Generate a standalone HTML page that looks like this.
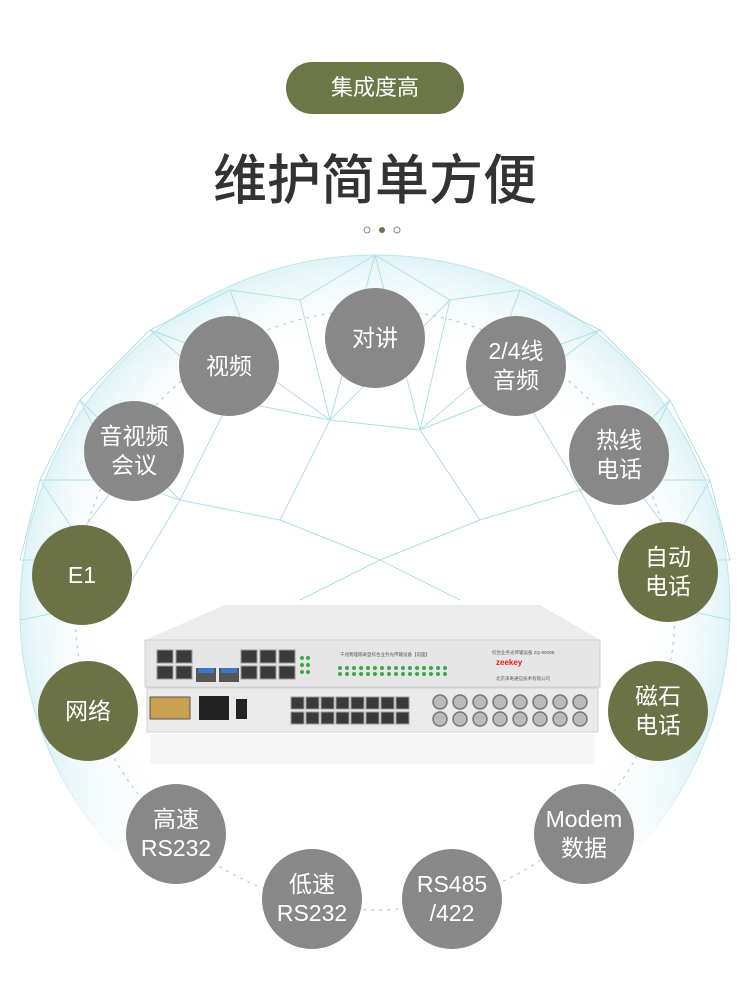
<!DOCTYPE html>
<html><head><meta charset="utf-8"><style>
body{margin:0;width:750px;height:1003px;background:#fff;position:relative;overflow:hidden;font-family:"Liberation Sans","Noto Sans CJK SC",sans-serif}
.pill{position:absolute;left:286px;top:62px;width:178px;height:52px;border-radius:26px;background:#6c7748;color:#fff;font-size:22px;text-align:center;line-height:52px}
.title{position:absolute;left:0;width:750px;top:136px;text-align:center;font-size:54px;color:#333;letter-spacing:0px;font-weight:500}
.c{position:absolute;width:100px;height:100px;border-radius:50%;background:#888;color:#fff;font-size:23px;display:flex;align-items:center;justify-content:center;text-align:center;line-height:29px}
.g{background:#6b7346}
</style></head><body>
<svg width="750" height="1003" style="position:absolute;left:0;top:0">
<defs>
<radialGradient id="rg" cx="50%" cy="50%" r="50%"><stop offset="75%" stop-color="#fff" stop-opacity="0"/><stop offset="100%" stop-color="#dff3f6"/></radialGradient>
<linearGradient id="fade" x1="0" y1="0" x2="0" y2="1"><stop offset="0" stop-color="#fff"/><stop offset="0.7" stop-color="#fff"/><stop offset="0.85" stop-color="#000"/></linearGradient>
<mask id="m"><rect x="0" y="250" width="750" height="720" fill="url(#fade)"/></mask>
</defs>
<g mask="url(#m)">
<circle cx="375" cy="610" r="355" fill="url(#rg)" stroke="#bfe6ec" stroke-width="1"/>
<g stroke="#b0dfe8" stroke-width="1" fill="none">
<path d="M375 255 L300 300 L230 290 L150 330 L80 400 L40 480 L20 560 M375 255 L450 300 L520 290 L600 330 L670 400 L710 480 L730 560"/>
<path d="M300 300 L330 420 L230 400 L150 330 M330 420 L450 300 L420 430 L520 390 L600 330 M420 430 L330 420 L280 520 L180 500 L80 400 M420 430 L480 520 L580 490 L670 400 M280 520 L380 560 L480 520 M180 500 L120 600 L40 480 M580 490 L640 600 L710 480 M380 560 L300 600 M380 560 L460 600 M230 400 L180 500 M520 390 L580 490"/>
<path d="M230 290 L260 370 L330 420 M520 290 L490 370 L420 430 M60 560 L120 600 L20 620 M690 560 L640 600 L730 620 M375 255 L330 420 M375 255 L420 430 M150 330 L260 370 M600 330 L490 370 M80 400 L120 480 L40 480 M670 400 L630 480 L710 480 M120 480 L180 500 M630 480 L580 490 M20 560 L60 560 L120 480 M730 560 L690 560 L630 480"/>
</g>
</g>
<circle cx="375" cy="610" r="300" fill="none" stroke="#c8c8c8" stroke-width="1.2" stroke-dasharray="3 5"/>
<circle cx="367" cy="230" r="3" fill="none" stroke="#888"/>
<circle cx="382" cy="230" r="3" fill="#6b7346"/>
<circle cx="397" cy="230" r="3" fill="none" stroke="#888"/>
<polygon points="225,605 540,605 600,640 145,640" fill="#ececec"/>
<rect x="145" y="640" width="455" height="47" fill="#e6e6e6" stroke="#d0d0d0"/>
<rect x="147" y="688" width="451" height="44" fill="#eaeaea" stroke="#d0d0d0"/>
<g fill="#3a3a3a" stroke="#999">
<rect x="157" y="650" width="16" height="13"/><rect x="176" y="650" width="16" height="13"/>
<rect x="157" y="666" width="16" height="13"/><rect x="176" y="666" width="16" height="13"/>
<rect x="241" y="650" width="16" height="13"/><rect x="260" y="650" width="16" height="13"/><rect x="279" y="650" width="16" height="13"/>
<rect x="241" y="666" width="16" height="13"/><rect x="260" y="666" width="16" height="13"/><rect x="279" y="666" width="16" height="13"/>
</g>
<rect x="196" y="668" width="20" height="14" fill="#555"/><rect x="198" y="668" width="16" height="5" fill="#3b78c8"/>
<rect x="219" y="668" width="20" height="14" fill="#555"/><rect x="221" y="668" width="16" height="5" fill="#3b78c8"/>
<g fill="#3aa84a">
<circle cx="340" cy="668" r="2"/><circle cx="347" cy="668" r="2"/><circle cx="354" cy="668" r="2"/><circle cx="361" cy="668" r="2"/><circle cx="368" cy="668" r="2"/><circle cx="375" cy="668" r="2"/><circle cx="382" cy="668" r="2"/><circle cx="389" cy="668" r="2"/><circle cx="396" cy="668" r="2"/><circle cx="403" cy="668" r="2"/><circle cx="410" cy="668" r="2"/><circle cx="417" cy="668" r="2"/><circle cx="424" cy="668" r="2"/><circle cx="431" cy="668" r="2"/><circle cx="438" cy="668" r="2"/><circle cx="445" cy="668" r="2"/>
<circle cx="340" cy="674" r="2"/><circle cx="347" cy="674" r="2"/><circle cx="354" cy="674" r="2"/><circle cx="361" cy="674" r="2"/><circle cx="368" cy="674" r="2"/><circle cx="375" cy="674" r="2"/><circle cx="382" cy="674" r="2"/><circle cx="389" cy="674" r="2"/><circle cx="396" cy="674" r="2"/><circle cx="403" cy="674" r="2"/><circle cx="410" cy="674" r="2"/><circle cx="417" cy="674" r="2"/><circle cx="424" cy="674" r="2"/><circle cx="431" cy="674" r="2"/><circle cx="438" cy="674" r="2"/><circle cx="445" cy="674" r="2"/>
<circle cx="302" cy="658" r="2"/><circle cx="308" cy="658" r="2"/><circle cx="302" cy="665" r="2"/><circle cx="308" cy="665" r="2"/><circle cx="302" cy="672" r="2"/><circle cx="308" cy="672" r="2"/>
</g>
<text x="340" y="656" font-size="4.5" fill="#555">千兆物理隔离型综合业务光传输设备【前面】</text>
<text x="492" y="654" font-size="4.5" fill="#555">综合业务光传输设备 ZQ-9000B</text>
<text x="496" y="665" font-size="8" fill="#e02020" font-weight="bold">zeekey</text>
<text x="496" y="680" font-size="4.5" fill="#555">北京泽奇通信技术有限公司</text>
<rect x="150" y="697" width="40" height="22" fill="#c8a050" stroke="#555"/>
<rect x="199" y="696" width="30" height="24" fill="#222"/>
<rect x="236" y="699" width="11" height="20" fill="#222"/>
<g fill="#3a3a3a" stroke="#999">
<rect x="291" y="697" width="13" height="12"/><rect x="306" y="697" width="13" height="12"/><rect x="321" y="697" width="13" height="12"/><rect x="336" y="697" width="13" height="12"/><rect x="351" y="697" width="13" height="12"/><rect x="366" y="697" width="13" height="12"/><rect x="381" y="697" width="13" height="12"/><rect x="396" y="697" width="13" height="12"/>
<rect x="291" y="712" width="13" height="12"/><rect x="306" y="712" width="13" height="12"/><rect x="321" y="712" width="13" height="12"/><rect x="336" y="712" width="13" height="12"/><rect x="351" y="712" width="13" height="12"/><rect x="366" y="712" width="13" height="12"/><rect x="381" y="712" width="13" height="12"/><rect x="396" y="712" width="13" height="12"/>
</g>
<g fill="#bbb" stroke="#777" stroke-width="1.5">
<circle cx="440" cy="702" r="7"/><circle cx="460" cy="702" r="7"/><circle cx="480" cy="702" r="7"/><circle cx="500" cy="702" r="7"/><circle cx="520" cy="702" r="7"/><circle cx="540" cy="702" r="7"/><circle cx="560" cy="702" r="7"/><circle cx="580" cy="702" r="7"/>
<circle cx="440" cy="719" r="7"/><circle cx="460" cy="719" r="7"/><circle cx="480" cy="719" r="7"/><circle cx="500" cy="719" r="7"/><circle cx="520" cy="719" r="7"/><circle cx="540" cy="719" r="7"/><circle cx="560" cy="719" r="7"/><circle cx="580" cy="719" r="7"/>
</g>
<rect x="150" y="734" width="445" height="30" fill="#f4f4f4" opacity="0.7"/>
</svg>
<div class="pill">集成度高</div>
<div class="title">维护简单方便</div>
<div class="c" style="left:179px;top:316px">视频</div>
<div class="c" style="left:325px;top:288px">对讲</div>
<div class="c" style="left:466px;top:316px">2/4线<br>音频</div>
<div class="c" style="left:84px;top:401px">音视频<br>会议</div>
<div class="c" style="left:569px;top:405px">热线<br>电话</div>
<div class="c g" style="left:32px;top:525px">E1</div>
<div class="c g" style="left:618px;top:522px">自动<br>电话</div>
<div class="c g" style="left:38px;top:661px">网络</div>
<div class="c g" style="left:608px;top:661px">磁石<br>电话</div>
<div class="c" style="left:126px;top:784px">高速<br>RS232</div>
<div class="c" style="left:534px;top:784px">Modem<br>数据</div>
<div class="c" style="left:262px;top:849px">低速<br>RS232</div>
<div class="c" style="left:402px;top:849px">RS485<br>/422</div>
</body></html>
